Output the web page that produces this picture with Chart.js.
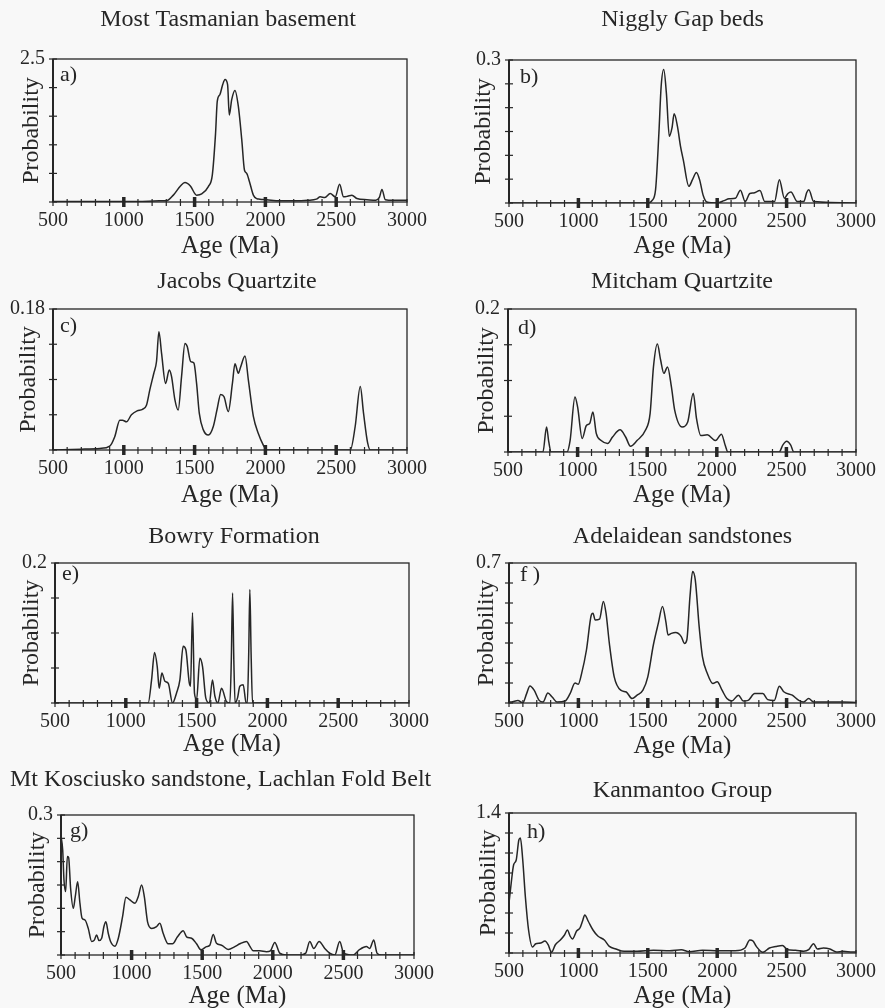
<!DOCTYPE html>
<html>
<head>
<meta charset="utf-8">
<script src="https://cdn.jsdelivr.net/npm/chart.js@4.4.0/dist/chart.umd.min.js"></script>
<style>
  body { margin: 0; background: #f8f8f8; width: 885px; height: 1008px; position: relative; overflow: hidden; }
  canvas { position: absolute; }
</style>
</head>
<body>
<canvas id="pa"></canvas>
<canvas id="pb"></canvas>
<canvas id="pc"></canvas>
<canvas id="pd"></canvas>
<canvas id="pe"></canvas>
<canvas id="pf"></canvas>
<canvas id="pg"></canvas>
<canvas id="ph"></canvas>
<script>
// values (age in Ma, probability)
const ageA = [500, 800, 1100, 1250, 1300, 1350, 1400, 1432, 1470, 1514, 1550, 1597, 1625, 1648, 1660, 1679, 1698, 1715, 1733, 1745, 1762, 1785, 1809, 1833, 1852, 1868, 1887, 1915, 1939, 1960, 2009, 2100, 2200, 2300, 2360, 2387, 2420, 2458, 2493, 2524, 2552, 2580, 2611, 2646, 2717, 2780, 2805, 2823, 2847, 2900, 3000];
const probA = [0.01, 0.01, 0.01, 0.02, 0.02, 0.12, 0.28, 0.34, 0.28, 0.12, 0.14, 0.27, 0.47, 1.2, 1.76, 1.88, 2.05, 2.14, 2.05, 1.52, 1.79, 1.95, 1.67, 1.09, 0.56, 0.5, 0.36, 0.12, 0.06, 0.05, 0.04, 0.02, 0.02, 0.03, 0.05, 0.09, 0.08, 0.15, 0.09, 0.31, 0.09, 0.1, 0.12, 0.06, 0.04, 0.03, 0.08, 0.22, 0.04, 0.03, 0.03];

const ageB = [500, 1500, 1530, 1556, 1580, 1596, 1615, 1634, 1655, 1674, 1690, 1714, 1735, 1756, 1796, 1822, 1850, 1873, 1900, 1925, 2000, 2050, 2085, 2131, 2167, 2202, 2235, 2261, 2308, 2343, 2413, 2448, 2484, 2510, 2531, 2577, 2624, 2645, 2660, 2695, 3000];
const probB = [0, 0, 0.005, 0.028, 0.147, 0.244, 0.28, 0.23, 0.14, 0.157, 0.187, 0.16, 0.12, 0.09, 0.035, 0.049, 0.064, 0.049, 0.015, 0.002, 0, 0.005, 0.009, 0.01, 0.027, 0.003, 0.02, 0.021, 0.026, 0.003, 0.003, 0.049, 0.01, 0.02, 0.023, 0.003, 0.003, 0.022, 0.028, 0.003, 0];

const ageC = [500, 700, 830, 901, 936, 972, 991, 1019, 1054, 1094, 1132, 1160, 1184, 1212, 1231, 1248, 1267, 1295, 1321, 1337, 1361, 1384, 1408, 1432, 1448, 1472, 1495, 1514, 1533, 1561, 1597, 1632, 1660, 1684, 1708, 1738, 1767, 1785, 1809, 1825, 1856, 1880, 1915, 1950, 1986, 2009, 2600, 2634, 2670, 2693, 2722, 2741, 3000];
const probC = [0, 0.001, 0.002, 0.005, 0.017, 0.038, 0.038, 0.036, 0.045, 0.05, 0.052, 0.057, 0.077, 0.098, 0.113, 0.151, 0.123, 0.085, 0.102, 0.094, 0.064, 0.051, 0.094, 0.136, 0.132, 0.113, 0.111, 0.085, 0.047, 0.026, 0.019, 0.03, 0.053, 0.071, 0.068, 0.049, 0.085, 0.11, 0.098, 0.106, 0.12, 0.089, 0.043, 0.021, 0.006, 0, 0, 0.03, 0.081, 0.047, 0.009, 0, 0];

const ageD = [500, 751, 777, 793, 810, 923, 946, 981, 1000, 1033, 1063, 1087, 1110, 1134, 1169, 1216, 1251, 1305, 1345, 1380, 1427, 1486, 1521, 1545, 1573, 1596, 1620, 1646, 1674, 1697, 1751, 1791, 1831, 1854, 1885, 1932, 1991, 2033, 2061, 2080, 2448, 2475, 2502, 2530, 2554, 3000];
const probD = [0, 0, 0.035, 0.014, 0, 0, 0.016, 0.077, 0.063, 0.019, 0.037, 0.04, 0.056, 0.026, 0.016, 0.012, 0.021, 0.031, 0.021, 0.008, 0.016, 0.03, 0.054, 0.119, 0.151, 0.129, 0.11, 0.119, 0.091, 0.059, 0.035, 0.042, 0.082, 0.047, 0.023, 0.024, 0.016, 0.025, 0.009, 0, 0, 0.01, 0.015, 0.01, 0, 0];

const ageE = [500, 1158, 1182, 1203, 1222, 1236, 1255, 1276, 1300, 1330, 1358, 1382, 1405, 1424, 1448, 1457, 1471, 1485, 1500, 1523, 1542, 1565, 1590, 1612, 1629, 1650, 1676, 1711, 1735, 1745, 1754, 1763, 1772, 1790, 1805, 1829, 1850, 1858, 1868, 1876, 1885, 1895, 3000];
const probE = [0, 0, 0.033, 0.072, 0.052, 0.021, 0.043, 0.031, 0.028, 0, 0.014, 0.033, 0.081, 0.076, 0.029, 0.024, 0.129, 0.014, 0.005, 0.064, 0.052, 0.007, 0, 0.033, 0.01, 0, 0.021, 0.002, 0, 0.06, 0.157, 0.06, 0, 0.008, 0.024, 0.026, 0, 0, 0.07, 0.162, 0.07, 0, 0];

const ageF = [500, 516, 564, 599, 627, 651, 681, 717, 745, 780, 811, 846, 905, 940, 976, 999, 1023, 1058, 1093, 1105, 1121, 1152, 1180, 1199, 1223, 1258, 1305, 1345, 1387, 1423, 1465, 1500, 1540, 1576, 1606, 1630, 1646, 1670, 1700, 1741, 1764, 1781, 1804, 1823, 1842, 1870, 1894, 1929, 1969, 2000, 2035, 2070, 2105, 2153, 2188, 2223, 2270, 2329, 2364, 2411, 2447, 2482, 2541, 2588, 2623, 2659, 2694, 2788, 2906, 3000];
const probF = [0.005, 0.005, 0.013, 0, 0.047, 0.085, 0.064, 0.013, 0.005, 0.05, 0.03, 0.005, 0.01, 0.047, 0.1, 0.094, 0.147, 0.265, 0.44, 0.449, 0.415, 0.419, 0.508, 0.449, 0.298, 0.131, 0.064, 0.055, 0.022, 0.039, 0.064, 0.131, 0.29, 0.399, 0.482, 0.407, 0.34, 0.348, 0.352, 0.332, 0.298, 0.315, 0.533, 0.658, 0.616, 0.382, 0.231, 0.147, 0.097, 0.106, 0.064, 0.022, 0.01, 0.039, 0.01, 0.013, 0.047, 0.047, 0.017, 0.013, 0.084, 0.055, 0.039, 0.013, 0.005, 0.022, 0.005, 0.005, 0.005, 0.003];

const ageG = [500, 512, 521, 533, 545, 554, 568, 587, 601, 618, 634, 649, 670, 693, 717, 736, 752, 769, 788, 804, 818, 835, 851, 882, 906, 936, 960, 988, 1024, 1047, 1071, 1090, 1113, 1142, 1177, 1200, 1224, 1259, 1290, 1325, 1366, 1389, 1425, 1460, 1491, 1531, 1554, 1578, 1601, 1637, 1684, 1731, 1767, 1814, 1837, 1861, 1908, 1955, 1983, 2014, 2049, 2097, 2191, 2233, 2262, 2290, 2328, 2368, 2403, 2439, 2474, 2502, 2568, 2616, 2663, 2686, 2715, 2738, 2769, 3000];
const probG = [0.254, 0.225, 0.161, 0.136, 0.211, 0.209, 0.143, 0.1, 0.125, 0.157, 0.111, 0.079, 0.075, 0.057, 0.029, 0.032, 0.043, 0.031, 0.036, 0.061, 0.071, 0.046, 0.029, 0.019, 0.036, 0.082, 0.124, 0.118, 0.111, 0.125, 0.15, 0.125, 0.071, 0.057, 0.061, 0.068, 0.046, 0.024, 0.024, 0.039, 0.052, 0.039, 0.036, 0.024, 0.011, 0.018, 0.021, 0.044, 0.025, 0.021, 0.012, 0.018, 0.024, 0.029, 0.019, 0.009, 0.009, 0.007, 0.009, 0.027, 0.004, 0, 0, 0.004, 0.029, 0.014, 0.029, 0.014, 0.004, 0, 0.029, 0.004, 0, 0.012, 0.018, 0.014, 0.032, 0.004, 0, 0];

const ageH = [500, 516, 533, 552, 571, 582, 599, 618, 641, 669, 693, 728, 759, 782, 806, 834, 870, 900, 921, 940, 957, 987, 1011, 1030, 1046, 1070, 1105, 1140, 1187, 1223, 1270, 1329, 1423, 1540, 1658, 1741, 1799, 1894, 2011, 2129, 2200, 2235, 2258, 2282, 2329, 2376, 2423, 2470, 2506, 2564, 2623, 2659, 2694, 2722, 2765, 2812, 2859, 2906, 2976, 3000];
const probH = [0.5, 0.7, 0.88, 0.93, 1.13, 1.15, 0.93, 0.56, 0.23, 0.06, 0.093, 0.1, 0.12, 0.083, 0.007, 0.083, 0.13, 0.18, 0.23, 0.17, 0.14, 0.22, 0.25, 0.32, 0.38, 0.32, 0.23, 0.17, 0.13, 0.066, 0.04, 0.017, 0.017, 0.027, 0.023, 0.033, 0.013, 0.027, 0.023, 0.023, 0.05, 0.13, 0.12, 0.066, 0.007, 0.05, 0.066, 0.076, 0.033, 0.027, 0.017, 0.033, 0.093, 0.04, 0.05, 0.04, 0.01, 0.017, 0.01, 0.01];

const ages = [ageA, ageB, ageC, ageD, ageE, ageF, ageG, ageH];
const probs = [probA, probB, probC, probD, probE, probF, probG, probH];
const titles = ['Most Tasmanian basement', 'Niggly Gap beds', 'Jacobs Quartzite', 'Mitcham Quartzite',
                'Bowry Formation', 'Adelaidean sandstones', 'Mt Kosciusko sandstone, Lachlan Fold Belt', 'Kanmantoo Group'];
const letters = ['a)', 'b)', 'c)', 'd)', 'e)', 'f )', 'g)', 'h)'];
const yMax = [2.5, 0.3, 0.18, 0.2, 0.2, 0.7, 0.3, 1.4];
const yStep = [0.5, 0.05, 0.045, 0.05, 0.05, 0.1, 0.05, 0.2];

// page geometry: canvas box [left, top, w, h], plot area [L, T, R, B]
const layout = [
  {id: 'pa', box: [0, 0, 456, 262],     plot: [53, 59, 407, 202],   titleY: 20,  probX: 32,  ageY: 246, full: true,  let: [7, 16]},
  {id: 'pb', box: [442, 0, 443, 262],   plot: [509, 60, 863, 203],  titleY: 20,  probX: 484, ageY: 246, full: false, let: [11, 17]},
  {id: 'pc', box: [0, 258, 474, 252],   plot: [53, 309, 407, 450],  titleY: 282, probX: 29,  ageY: 495, full: true,  let: [7, 17]},
  {id: 'pd', box: [442, 258, 443, 252], plot: [508, 309, 863, 452], titleY: 282, probX: 487, ageY: 495, full: false, let: [10, 19]},
  {id: 'pe', box: [0, 505, 468, 255],   plot: [55, 563, 409, 703],  titleY: 537, probX: 32,  ageY: 744, full: true,  let: [7, 11]},
  {id: 'pf', box: [442, 505, 443, 255], plot: [509, 563, 863, 703], titleY: 537, probX: 487, ageY: 746, full: false, let: [11, 12]},
  {id: 'pg', box: [0, 758, 446, 250],   plot: [61, 815, 414, 955],  titleY: 780, probX: 38,  ageY: 996, full: true,  let: [9, 16], padL: 10, align: 'start'},
  {id: 'ph', box: [442, 758, 443, 250], plot: [509, 813, 863, 953], titleY: 791, probX: 489, ageY: 996, full: false, let: [18, 19]}
];

const ink = '#262626';
const serif = "'Liberation Serif', 'Times New Roman', serif";
Chart.defaults.font.family = serif;
Chart.defaults.color = ink;

// box round the plot, ticks that cross the axes, panel letter
const frameTicks = {
  id: 'frameTicks',
  afterDatasetsDraw(chart, args, opts) {
    const {ctx, chartArea: a, scales: {x, y}} = chart;
    ctx.save();
    ctx.strokeStyle = ink;
    ctx.lineWidth = 1.3;
    ctx.strokeRect(a.left, a.top, a.right - a.left, a.bottom - a.top);
    ctx.lineWidth = 2;
    ctx.beginPath();
    ctx.moveTo(a.left, a.top);
    ctx.lineTo(a.left, a.bottom);
    ctx.stroke();
    x.ticks.forEach(t => {
      const px = x.getPixelForValue(t.value);
      const major = t.value % 500 === 0 && t.value > 500 && t.value < 3000;
      ctx.lineWidth = major ? 3.5 : 1.2;
      ctx.beginPath();
      ctx.moveTo(px, a.bottom - (major ? 5 : 3));
      ctx.lineTo(px, a.bottom + (major ? 5 : 4));
      ctx.stroke();
    });
    ctx.lineWidth = 1.2;
    y.ticks.forEach(t => {
      const py = y.getPixelForValue(t.value);
      ctx.beginPath();
      ctx.moveTo(a.left - 4, py);
      ctx.lineTo(a.left + 4, py);
      ctx.stroke();
    });
    ctx.fillStyle = ink;
    ctx.font = '22px ' + serif;
    ctx.textBaseline = 'middle';
    ctx.textAlign = 'left';
    ctx.fillText(opts.letter, a.left + opts.dx, a.top + opts.dy);
    ctx.restore();
  }
};

layout.forEach((p, i) => {
  const [cx, cy, cw, ch] = p.box;
  const [L, T, R, B] = p.plot;
  const padL = p.padL || 0;
  const canvas = document.getElementById(p.id);
  canvas.width = cw;
  canvas.height = ch;
  canvas.style.left = cx + 'px';
  canvas.style.top = cy + 'px';
  const tSize = 24;
  const tTop = p.titleY - cy - tSize / 2;

  new Chart(canvas, {
    type: 'line',
    data: {
      datasets: [{
        data: ages[i].map((a, k) => ({x: a, y: probs[i][k]})),
        borderColor: ink,
        borderWidth: 1.5,
        pointRadius: 0,
        cubicInterpolationMode: 'monotone',
        fill: false,
        xAxisID: 'x',
        yAxisID: 'y'
      }]
    },
    options: {
      responsive: false,
      animation: false,
      devicePixelRatio: 1,
      layout: {padding: {left: padL, right: 0, top: 0, bottom: 0}},
      plugins: {
        legend: {display: false},
        tooltip: {enabled: false},
        title: {
          display: true,
          text: titles[i],
          fullSize: p.full,
          align: p.align || 'center',
          color: ink,
          font: {family: serif, size: tSize, weight: 'normal', lineHeight: 1},
          padding: {top: tTop, bottom: T - cy - tSize - tTop}
        },
        frameTicks: {letter: letters[i], dx: p.let[0], dy: p.let[1]}
      },
      scales: {
        x: {
          type: 'linear',
          min: 500,
          max: 3000,
          border: {display: false},
          grid: {display: false, drawTicks: false},
          ticks: {
            stepSize: 100,
            autoSkip: false,
            maxRotation: 0,
            padding: 9,
            font: {size: 20, lineHeight: 1},
            callback: v => v % 500 === 0 ? String(v) : ''
          },
          title: {
            display: true,
            text: 'Age (Ma)',
            font: {size: 25, lineHeight: 1},
            padding: {top: 0, bottom: cy + ch - p.ageY - 12.5}
          },
          afterFit: s => { s.height = cy + ch - B; }
        },
        y: {
          min: 0,
          max: yMax[i],
          border: {display: false},
          grid: {display: false, drawTicks: false},
          ticks: {
            stepSize: yStep[i],
            autoSkip: false,
            padding: 8,
            font: {size: 20, lineHeight: 1},
            callback: (v, k, arr) => k === arr.length - 1 ? String(yMax[i]) : ''
          },
          title: {
            display: true,
            text: 'Probability',
            font: {size: 24, lineHeight: 1},
            padding: {top: p.probX - cx - padL - 12, bottom: 0}
          },
          afterFit: s => { s.width = L - cx - padL; }
        },
        yRight: {
          position: 'right',
          display: true,
          ticks: {display: false},
          grid: {display: false, drawTicks: false},
          border: {display: false},
          afterFit: s => { s.width = cx + cw - R; }
        }
      }
    },
    plugins: [frameTicks]
  });
});
</script>
</body>
</html>
